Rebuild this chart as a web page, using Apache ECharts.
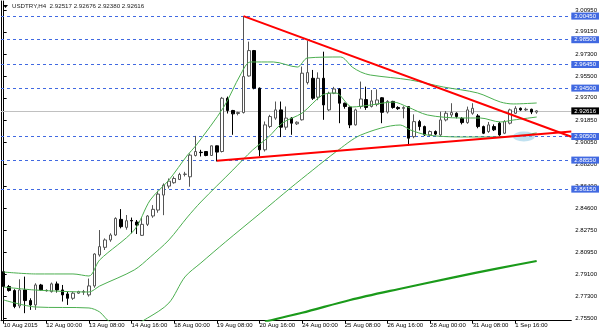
<!DOCTYPE html>
<html><head><meta charset="utf-8">
<script src="https://cdn.jsdelivr.net/npm/echarts@6/dist/echarts.min.js"></script>
<style>html,body{margin:0;padding:0;background:#fff}#c{width:600px;height:333px}</style>
</head><body><div id="c"></div>
<script>
const symbolName = 'USDTRY,H4';
const categories = [
"10 Aug 2015","10 Aug 20:00",
"11 Aug 00:00","11 Aug 04:00","11 Aug 08:00","11 Aug 12:00","11 Aug 16:00","11 Aug 20:00",
"12 Aug 00:00","12 Aug 04:00","12 Aug 08:00","12 Aug 12:00","12 Aug 16:00","12 Aug 20:00",
"13 Aug 00:00","13 Aug 04:00","13 Aug 08:00","13 Aug 12:00","13 Aug 16:00","13 Aug 20:00",
"14 Aug 00:00","14 Aug 04:00","14 Aug 08:00","14 Aug 12:00","14 Aug 16:00","14 Aug 20:00",
"17 Aug 00:00","17 Aug 04:00","17 Aug 08:00","17 Aug 12:00","17 Aug 16:00","17 Aug 20:00",
"18 Aug 00:00","18 Aug 04:00","18 Aug 08:00","18 Aug 12:00","18 Aug 16:00","18 Aug 20:00",
"19 Aug 00:00","19 Aug 04:00","19 Aug 08:00","19 Aug 12:00","19 Aug 16:00","19 Aug 20:00",
"20 Aug 00:00","20 Aug 04:00","20 Aug 08:00","20 Aug 12:00","20 Aug 16:00","20 Aug 20:00",
"21 Aug 00:00","21 Aug 04:00","21 Aug 08:00","21 Aug 12:00","21 Aug 16:00","21 Aug 20:00",
"24 Aug 00:00","24 Aug 04:00","24 Aug 08:00","24 Aug 12:00","24 Aug 16:00","24 Aug 20:00",
"25 Aug 00:00","25 Aug 04:00","25 Aug 08:00","25 Aug 12:00","25 Aug 16:00","25 Aug 20:00",
"26 Aug 00:00","26 Aug 04:00","26 Aug 08:00","26 Aug 12:00","26 Aug 16:00","26 Aug 20:00",
"27 Aug 00:00","27 Aug 04:00","27 Aug 08:00","27 Aug 12:00","27 Aug 16:00","27 Aug 20:00",
"28 Aug 00:00","28 Aug 04:00","28 Aug 08:00","28 Aug 12:00","28 Aug 16:00","28 Aug 20:00",
"31 Aug 00:00","31 Aug 04:00","31 Aug 08:00","31 Aug 12:00","31 Aug 16:00","31 Aug 20:00",
"1 Sep 00:00","1 Sep 04:00","1 Sep 08:00","1 Sep 12:00","1 Sep 16:00","1 Sep 20:00",
"2 Sep 00:00","2 Sep 04:00","2 Sep 08:00",
"","","","","",""];

const opens = [2.7933,2.7810,2.7777,2.7650,2.7782,2.7694,2.7658,2.7823,2.7778,2.7768,
2.7832,2.7782,2.7749,2.7713,2.7755,2.7764,2.7741,2.7815,2.8071,2.8134,
2.8195,2.8236,2.8365,2.8299,2.8356,2.8343,2.8233,2.8324,2.8393,2.8442,
2.8566,2.8640,2.8668,2.8695,2.8737,2.8717,2.8893,2.8920,2.8926,2.8893,
2.8973,2.8926,2.9366,2.9265,2.9240,2.9248,2.9550,2.9760,2.9449,2.8940,
2.9133,2.9202,2.9270,2.9127,2.9202,2.9155,2.9188,2.9496,2.9531,2.9375,
2.9531,2.9270,2.9407,2.9443,2.9325,2.9292,2.9146,2.9298,2.9355,2.9298,
2.9316,2.9370,2.9252,2.9340,2.9290,2.9282,2.9297,2.9049,2.9173,2.9132,
2.9063,2.9091,2.9063,2.9187,2.9228,2.9242,2.9200,2.9165,2.9242,2.9220,
2.9132,2.9091,2.9132,2.9160,2.9077,2.9160,2.9242,2.9283,2.9270,2.9275,
2.92517];
const highs = [2.7936,2.7823,2.7788,2.7870,2.7892,2.7713,2.7837,2.7832,2.7785,2.7843,
2.7851,2.7823,2.7768,2.7768,2.7775,2.7782,2.7876,2.8085,2.8277,2.8208,
2.8250,2.8382,2.8450,2.8401,2.8380,2.8360,2.8382,2.8401,2.8483,2.8602,
2.8662,2.8703,2.8720,2.8750,2.8758,2.8910,2.9055,2.8940,2.8930,2.8975,
2.8975,2.9377,2.9380,2.9270,2.9255,3.0045,2.9834,2.9765,2.9455,2.9174,
2.9229,2.9339,2.9339,2.9298,2.9210,2.9175,2.9628,2.9842,2.9600,2.9580,
2.9751,2.9420,2.9460,2.9450,2.9330,2.9298,2.9280,2.9504,2.9462,2.9434,
2.9440,2.9375,2.9350,2.9345,2.9300,2.9300,2.9300,2.9233,2.9187,2.9140,
2.9100,2.9100,2.9255,2.9260,2.9325,2.9250,2.9210,2.9297,2.9325,2.9235,
2.9140,2.9170,2.9150,2.9170,2.9185,2.9280,2.9300,2.9290,2.9288,2.9280,
2.92676];
const lows = [2.7788,2.7768,2.7631,2.7631,2.7590,2.7617,2.7617,2.7777,2.7770,2.7760,
2.7760,2.7686,2.7658,2.7700,2.7749,2.7741,2.7727,2.7800,2.8057,2.8112,
2.8180,2.8228,2.8291,2.8280,2.8250,2.8244,2.8228,2.8310,2.8378,2.8420,
2.8400,2.8621,2.8660,2.8690,2.8720,2.8635,2.8885,2.8885,2.8887,2.8890,
2.8844,2.8918,2.9240,2.9064,2.9225,2.9240,2.9545,2.9440,2.8885,2.8926,
2.9119,2.9188,2.9045,2.9105,2.9064,2.9145,2.9182,2.9480,2.9352,2.9350,
2.9188,2.9260,2.9400,2.9160,2.9280,2.9119,2.9140,2.9280,2.9270,2.9290,
2.9300,2.9160,2.9240,2.9280,2.9270,2.9200,2.8975,2.9036,2.9100,2.9055,
2.9050,2.9060,2.9055,2.9175,2.9210,2.9200,2.9150,2.9155,2.9230,2.9118,
2.9070,2.9080,2.9095,2.9055,2.9070,2.9150,2.9235,2.9262,2.9262,2.9235,
2.92380];
const closes = [2.7810,2.7777,2.7645,2.7782,2.7694,2.7658,2.7823,2.7782,2.7776,2.7832,
2.7782,2.7741,2.7713,2.7755,2.7768,2.7768,2.7815,2.8079,2.8140,2.8195,
2.8236,2.8373,2.8305,2.8354,2.8352,2.8318,2.8324,2.8393,2.8448,2.8574,
2.8648,2.8681,2.8703,2.8736,2.8739,2.8896,2.8926,2.8917,2.8893,2.8973,
2.8921,2.9366,2.9265,2.9237,2.9248,2.9545,2.9760,2.9449,2.8940,2.9146,
2.9215,2.9270,2.9127,2.9202,2.9160,2.9168,2.9573,2.9578,2.9366,2.9531,
2.9311,2.9407,2.9443,2.9325,2.9298,2.9146,2.9270,2.9360,2.9290,2.9344,
2.9352,2.9250,2.9340,2.9290,2.9280,2.9290,2.9036,2.9173,2.9132,2.9063,
2.9091,2.9070,2.9187,2.9242,2.9248,2.9215,2.9165,2.9270,2.9283,2.9132,
2.9077,2.9146,2.9105,2.9063,2.9173,2.9270,2.9283,2.9270,2.9275,2.9252,
2.92616];

// Bollinger bands and moving average read at sampled bar positions [bar index, value]
const bbUpper = [[0,2.7930],[6,2.7914],[13,2.7914],[16,2.7897],[18,2.8029],[24.5,2.8277],[27.5,2.8525],[31,2.8690],[34.5,2.8897],[36,2.8971],[41.3,2.9294],[44.4,2.9558],[46.3,2.9666],[50.6,2.9666],[55.1,2.9624],[57,2.9699],[63.2,2.9707],[65.4,2.9624],[67,2.9583],[68.8,2.9558],[76.3,2.9517],[82.5,2.9459],[88.9,2.9410],[93.2,2.9335],[95.6,2.9319],[100,2.9327]];
const bbMiddle = [[0,2.7806],[6,2.7781],[16,2.7765],[18,2.7814],[24.5,2.7947],[27.5,2.8054],[31,2.8195],[34.5,2.8385],[37,2.8509],[43,2.8773],[46.7,2.8938],[49.7,2.9046],[52.3,2.9162],[56,2.9244],[59.8,2.9393],[62.3,2.9410],[65.4,2.9294],[68.8,2.9310],[73.1,2.9335],[75.8,2.9294],[79.5,2.9228],[85.7,2.9203],[89.4,2.9203],[93.2,2.9170],[95.6,2.9186],[100,2.9211]];
const bbLower = [[0,2.7699],[6,2.7641],[16,2.7633],[18,2.7600],[20,2.7517],[24,2.7492],[27,2.7550],[31,2.7674],[34,2.7889],[37,2.8005],[41.6,2.8178],[48.2,2.8418],[53.8,2.8624],[58,2.8773],[62.3,2.8922],[67,2.9062],[74.4,2.9145],[76.3,2.9104],[79.5,2.9062],[85.7,2.9046],[91.9,2.9046],[95.6,2.9054],[100,2.9079]];
const maSlow = [[49,2.7520],[56,2.7593],[65,2.7699],[74,2.7788],[84,2.7882],[93,2.7962],[100,2.8021]];

const trendUpper = [[45,3.0045],[106.5,2.9048]];
const trendLower = [[40,2.8850],[106.5,2.9091]];
const highlight = [[97.6,2.9050]];

const hLevels = [3.0045, 2.9850, 2.9645, 2.9450, 2.9050, 2.8855, 2.8615];
const currentPrice = 2.92616;
const yTicks = [3.0095,2.9915,2.9730,2.9550,2.9370,2.9185,2.9005,2.8820,2.8640,2.8460,2.8275,2.8095,2.7910,2.7730,2.7550];

const FONT = 'Liberation Sans';
const YMIN = 2.75277, YMAX = 3.01698;

const chart = echarts.init(document.getElementById('c'), null, {renderer:'canvas'});
const candleData = opens.map((o,i)=>[o, closes[i], lows[i], highs[i]]);
const last = opens.length-1;
const titleText = symbolName + '  ' + opens[last].toFixed(5) + ' ' + highs[last].toFixed(5) + ' ' + lows[last].toFixed(5) + ' ' + closes[last].toFixed(5);

function levelLabel(v, bg){
  return {show:true, position:'end', distance:0, formatter: v.toFixed(5),
    backgroundColor:bg, color:'#fff', fontSize:6, fontFamily:FONT, padding:[1,3,0,3], lineHeight:6};
}
const markData = hLevels.map(v=>({
  yAxis: v,
  lineStyle: {color:'#4169E1', type:[3,3], width:1},
  label: levelLabel(v, '#4169E1')
}));
markData.push({
  yAxis: currentPrice,
  lineStyle: {color:'#c0c0c0', type:'solid', width:1},
  label: levelLabel(currentPrice, '#000')
});

const every8 = (i)=> i % 8 === 0 && i <= last;

chart.setOption({
  animation:false,
  backgroundColor:'#fff',
  grid:{left:1, right:28, top:1, bottom:12.3, containLabel:false},
  xAxis:[
    {type:'category', data:categories, boundaryGap:true,
     axisLine:{show:true, lineStyle:{color:'#000', width:1}},
     axisTick:{show:true, alignWithLabel:true, interval:every8, length:3, lineStyle:{color:'#000'}},
     axisLabel:{interval:every8, align:'left', fontSize:6, fontFamily:FONT, color:'#000', margin:2},
     splitLine:{show:false}},
    {type:'value', min:-0.5, max:106.5, show:false}
  ],
  yAxis:[
    {type:'value', position:'right', min:YMIN, max:YMAX, scale:true,
     axisLine:{show:true, lineStyle:{color:'#000'}},
     axisTick:{show:true, length:3, customValues:yTicks, lineStyle:{color:'#000'}},
     axisLabel:{show:true, customValues:yTicks, formatter:(v)=>Number(v).toFixed(5), fontSize:6, fontFamily:FONT, color:'#000', margin:4},
     splitLine:{show:false}},
    {type:'value', position:'left', min:YMIN, max:YMAX,
     axisLine:{show:true, lineStyle:{color:'#000'}}, axisTick:{show:false}, axisLabel:{show:false}, splitLine:{show:false}}
  ],
  graphic:[
    {type:'polygon', shape:{points:[[3,5],[8,5],[5.5,8]]}, style:{fill:'#000'}},
    {type:'text', left:12, top:3, style:{text:titleText, fontSize:6.2, fontFamily:FONT, fill:'#222'}}
  ],
  series:[
    {type:'candlestick', xAxisIndex:0, yAxisIndex:0, data:candleData, barWidth:3, z:3,
     itemStyle:{color:'#fff', color0:'#000', borderColor:'#555', borderColor0:'#000', borderWidth:1},
     markLine:{symbol:'none', silent:true, z:1, precision:5, data:markData}},
    {type:'line', xAxisIndex:1, data:bbUpper, showSymbol:false, smooth:0.3, lineStyle:{color:'#4caf50', width:1}, z:4},
    {type:'line', xAxisIndex:1, data:bbMiddle, showSymbol:false, smooth:0.3, lineStyle:{color:'#4caf50', width:1}, z:4},
    {type:'line', xAxisIndex:1, data:bbLower, showSymbol:false, smooth:0.3, lineStyle:{color:'#4caf50', width:1}, z:4},
    {type:'line', xAxisIndex:1, data:maSlow, showSymbol:false, smooth:0.3, lineStyle:{color:'#1a9a1a', width:2.2}, z:4},
    {type:'scatter', xAxisIndex:1, data:highlight, symbol:'circle', symbolSize:[22,10], itemStyle:{color:'rgba(150,205,230,0.75)'}, z:5},
    {type:'line', xAxisIndex:1, data:trendUpper, showSymbol:false, lineStyle:{color:'#ff0000', width:2}, z:6},
    {type:'line', xAxisIndex:1, data:trendLower, showSymbol:false, lineStyle:{color:'#ff0000', width:2}, z:6}
  ]
});
</script></body></html>
